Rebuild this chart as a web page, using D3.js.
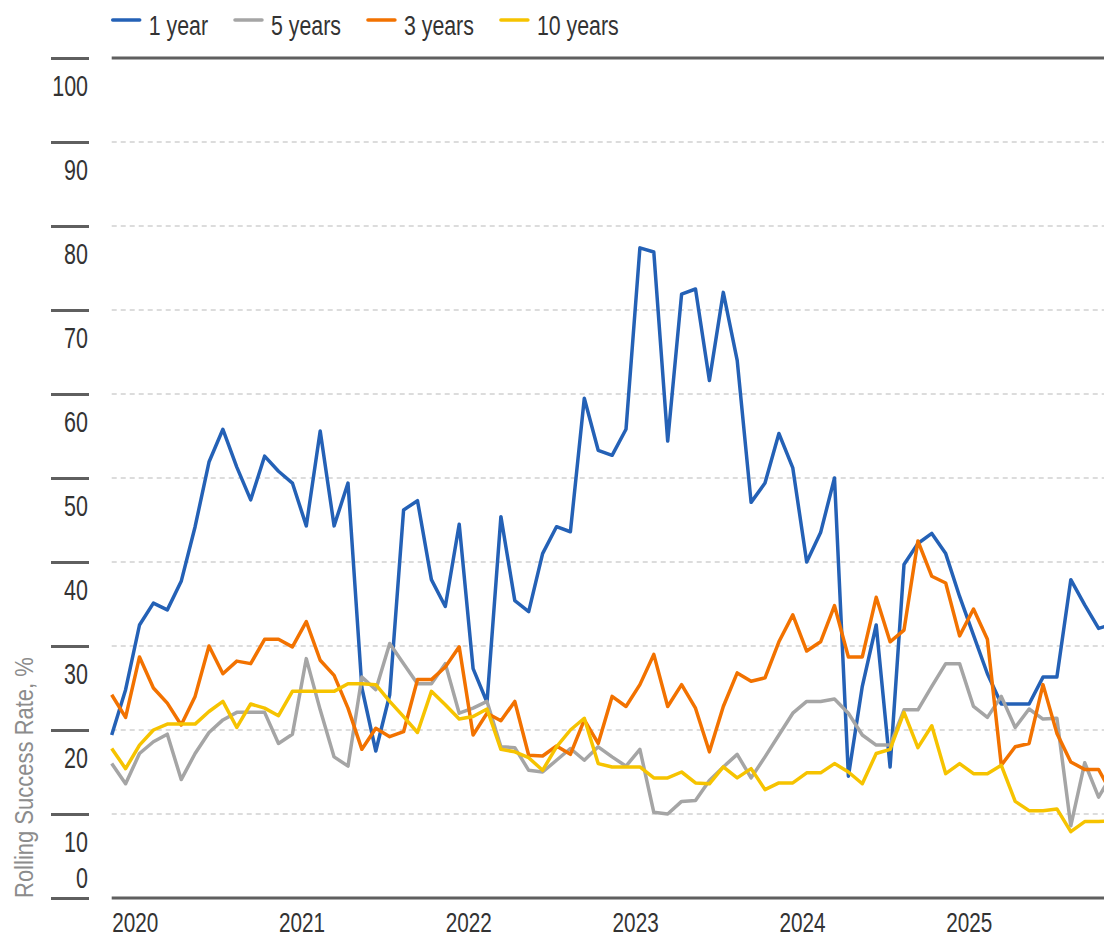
<!DOCTYPE html>
<html>
<head>
<meta charset="utf-8">
<script src="https://cdn.jsdelivr.net/npm/d3@7"></script>
<style>
  body { margin: 0; background: #fff; }
  svg { display: block; font-family: "Liberation Sans", Arial, sans-serif; }
</style>
</head>
<body>
<svg id="chart" width="1104" height="938"></svg>
<script>
// monthly points, Jan 2020 onward
const yearLabels = ["2020", "2021", "2022", "2023", "2024", "2025"];
const yTicks = [0, 10, 20, 30, 40, 50, 60, 70, 80, 90, 100];
const seriesNames = ["1 year", "5 years", "3 years", "10 years"];

const oneYear = [19.4, 24.8, 32.5, 35.1, 34.3, 37.7, 44.2, 51.9, 55.8, 51.3, 47.4, 52.6,
  50.8, 49.4, 44.3, 55.6, 44.3, 49.4, 25.0, 17.5, 24.2, 46.2, 47.3, 37.9,
  34.7, 44.5, 27.3, 23.3, 45.4, 35.4, 34.1, 41.0, 44.2, 43.6, 59.5, 53.3,
  52.7, 55.8, 77.4, 76.9, 54.4, 71.9, 72.5, 61.6, 72.1, 64.0, 47.1, 49.4,
  55.3, 51.2, 40.0, 43.5, 50.0, 14.5, 25.2, 32.5, 15.6, 39.7, 42.2, 43.4,
  41.0, 35.9, 31.3, 26.7, 23.1, 23.1, 23.1, 26.3, 26.3, 37.9, 34.9, 32.1, 32.6];

const fiveYears = [16.0, 13.6, 17.2, 18.6, 19.5, 14.1, 17.2, 19.7, 21.2, 22.1, 22.1, 22.1,
  18.4, 19.5, 28.5, 22.4, 16.8, 15.7, 26.3, 24.8, 30.3, 27.9, 25.5, 25.5,
  27.9, 22.0, 22.6, 23.4, 18.0, 17.9, 15.2, 15.0, 16.4, 17.8, 16.4, 18.0,
  16.8, 15.7, 17.7, 10.2, 10.0, 11.5, 11.6, 14.0, 15.6, 17.1, 14.3, 16.8,
  19.4, 22.0, 23.4, 23.4, 23.7, 22.0, 19.4, 18.2, 18.2, 22.4, 22.4, 25.2,
  27.9, 27.9, 22.8, 21.5, 24.0, 20.3, 22.5, 21.3, 21.4, 8.6, 16.1, 12.0, 14.8];

const threeYears = [24.2, 21.5, 28.7, 25.0, 23.2, 20.6, 24.0, 30.0, 26.7, 28.2, 27.9, 30.8,
  30.8, 29.9, 32.9, 28.3, 26.5, 22.6, 17.7, 20.2, 19.2, 19.8, 26.0, 26.0,
  27.5, 29.9, 19.4, 22.0, 21.1, 23.4, 17.0, 16.9, 18.1, 17.1, 21.2, 18.4,
  24.0, 22.8, 25.4, 29.0, 22.8, 25.4, 22.6, 17.4, 22.8, 26.8, 25.8, 26.2,
  30.5, 33.7, 29.4, 30.5, 34.8, 28.7, 28.7, 35.8, 30.5, 31.9, 42.5, 38.3,
  37.5, 31.2, 34.4, 30.8, 15.8, 18.0, 18.4, 25.4, 19.6, 16.2, 15.3, 15.3, 12.3];

const tenYears = [17.8, 15.4, 18.2, 20.0, 20.7, 20.7, 20.7, 22.2, 23.4, 20.3, 23.1, 22.6,
  21.7, 24.6, 24.6, 24.6, 24.6, 25.5, 25.5, 25.4, 23.4, 21.6, 19.7, 24.6,
  23.0, 21.3, 21.6, 22.5, 17.7, 17.4, 16.7, 15.2, 18.0, 20.0, 21.4, 16.0,
  15.6, 15.6, 15.6, 14.3, 14.3, 15.0, 13.7, 13.6, 15.6, 14.3, 15.4, 12.9,
  13.7, 13.7, 14.9, 14.9, 16.0, 15.0, 13.6, 17.2, 17.7, 22.1, 17.9, 20.5,
  14.8, 16.0, 14.8, 14.8, 15.8, 11.5, 10.4, 10.4, 10.6, 7.9, 9.1, 9.1, 9.2];

const seriesValues = [oneYear, fiveYears, threeYears, tenYears];
const seriesColors = ["#2461b6", "#a5a5a5", "#f27200", "#f6c300"];

const svg = d3.select("#chart");
const plotLeft = 111.7, plotRight = 1104, plotTop = 58, plotBottom = 898;

const x = d3.scaleLinear().domain([0, 71]).range([plotLeft, plotLeft + 13.9 * 71]);
const y = d3.scaleLinear().domain([0, 100]).range([plotBottom, plotTop]);

// squeeze text to mimic the condensed face of the original
function condense(sel, k) {
  sel.each(function () {
    const w = this.getComputedTextLength();
    d3.select(this).attr("textLength", w * k).attr("lengthAdjust", "spacingAndGlyphs");
  });
}

// dashed grid
svg.append("g")
  .selectAll("line")
  .data(yTicks.slice(1, -1))
  .join("line")
  .attr("x1", plotLeft).attr("x2", plotRight)
  .attr("y1", d => y(d)).attr("y2", d => y(d))
  .attr("stroke", "#dcdcdc")
  .attr("stroke-width", 2)
  .attr("stroke-dasharray", "5,4");

// solid top / bottom rules
svg.append("g")
  .selectAll("line")
  .data([0, 100])
  .join("line")
  .attr("x1", plotLeft).attr("x2", plotRight)
  .attr("y1", d => y(d)).attr("y2", d => y(d))
  .attr("stroke", "#5f5f5f")
  .attr("stroke-width", 3);

// y axis: short ticks, labels tucked under each tick
const yAxis = svg.append("g")
  .attr("transform", "translate(89,0)")
  .call(d3.axisLeft(y).tickValues(yTicks).tickSize(38).tickPadding(0));
yAxis.attr("font-family", null).attr("font-size", null);
yAxis.select(".domain").remove();
yAxis.selectAll(".tick line").attr("stroke", "#5f5f5f").attr("stroke-width", 3);
yAxis.selectAll(".tick text")
  .attr("x", -1)
  .attr("y", d => d === 0 ? -21 : 27)
  .attr("dy", "0.35em")
  .attr("fill", "#333")
  .style("font-size", "29px")
  .call(condense, 0.74);

// x axis labels
const xAxis = svg.append("g")
  .attr("transform", `translate(0,${plotBottom})`)
  .call(d3.axisBottom(x).tickValues(yearLabels.map((d, i) => i * 12)).tickSize(0)
    .tickFormat((d, i) => yearLabels[i]));
xAxis.attr("font-family", null).attr("font-size", null);
xAxis.select(".domain").remove();
xAxis.selectAll(".tick text")
  .attr("text-anchor", "start")
  .attr("y", 34)
  .attr("dy", 0)
  .attr("fill", "#333")
  .style("font-size", "28px")
  .call(condense, 0.74);

// y title
svg.append("text")
  .attr("transform", `translate(33,${plotBottom}) rotate(-90)`)
  .attr("fill", "#8c8c8c")
  .style("font-size", "25px")
  .text("Rolling Success Rate, %")
  .call(condense, 0.88);

// lines
const line = d3.line().x((d, i) => x(i)).y(d => y(d));
svg.append("g")
  .selectAll("path")
  .data(seriesValues)
  .join("path")
  .attr("d", line)
  .attr("fill", "none")
  .attr("stroke", (d, i) => seriesColors[i])
  .attr("stroke-width", 3.5)
  .attr("stroke-linejoin", "round");

// legend
const legend = svg.append("g").attr("transform", "translate(112.7,0)");
let lx = 0;
seriesNames.forEach((name, i) => {
  const item = legend.append("g").attr("transform", `translate(${lx},0)`);
  item.append("line")
    .attr("x1", 0).attr("x2", 27).attr("y1", 20).attr("y2", 20)
    .attr("stroke", seriesColors[i]).attr("stroke-width", 3.5)
    .attr("stroke-linecap", "round");
  const t = item.append("text")
    .attr("x", 36).attr("y", 35)
    .attr("fill", "#333")
    .style("font-size", "27px")
    .text(name);
  const w = t.node().getComputedTextLength() * 0.79;
  t.attr("textLength", w).attr("lengthAdjust", "spacingAndGlyphs");
  lx += 36 + w + 27;
});
</script>
</body>
</html>
